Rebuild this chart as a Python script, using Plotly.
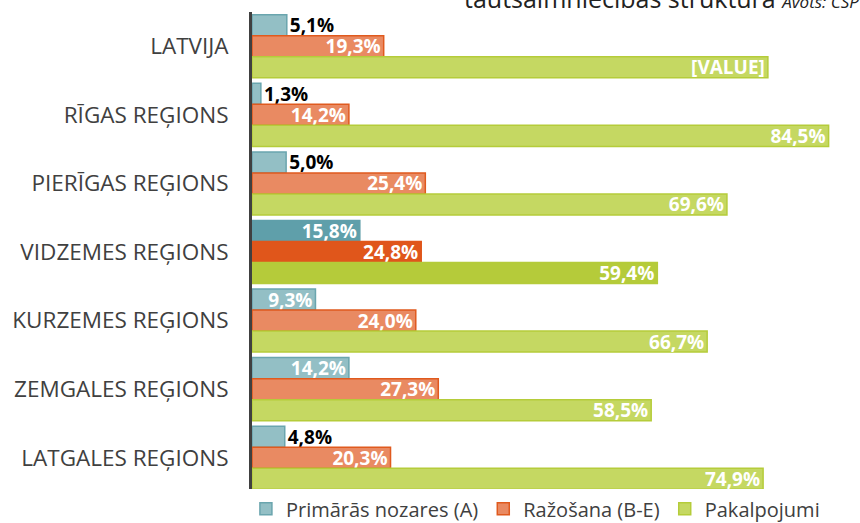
import plotly.graph_objects as go

categories = ["LATVIJA", "RĪGAS REĢIONS", "PIERĪGAS REĢIONS", "VIDZEMES REĢIONS",
              "KURZEMES REĢIONS", "ZEMGALES REĢIONS", "LATGALES REĢIONS"]
primaras = [5.1, 1.3, 5.0, 15.8, 9.3, 14.2, 4.8]
razosana = [19.3, 14.2, 25.4, 24.8, 24.0, 27.3, 20.3]
pakalpojumi = [75.6, 84.5, 69.6, 59.4, 66.7, 58.5, 74.9]
pak_labels = ["[VALUE]", "84,5%", "69,6%", "59,4%", "66,7%", "58,5%", "74,9%"]
series_names = ["Primārās nozares (A)", "Ražošana (B-E)", "Pakalpojumi"]

highlight = "VIDZEMES REĢIONS"

def fmt(v):
    return f"{v:.1f}%".replace(".", ",")

styles = [
    dict(fill="#93bfc5", line="#6aa5ae", hfill="#5f9faa", hline="#5f9faa"),
    dict(fill="#e98a62", line="#e05a1e", hfill="#e0561b", hline="#e0561b"),
    dict(fill="#c5d862", line="#b5cc3a", hfill="#b5cb3a", hline="#b5cb3a"),
]

fig = go.Figure()
for name, vals, st, labels in [
    (series_names[0], primaras, styles[0], [fmt(v) for v in primaras]),
    (series_names[1], razosana, styles[1], [fmt(v) for v in razosana]),
    (series_names[2], pakalpojumi, styles[2], pak_labels),
]:
    fills = [st["hfill"] if c == highlight else st["fill"] for c in categories]
    lines = [st["hline"] if c == highlight else st["line"] for c in categories]
    positions = ["outside" if v < 8 else "inside" for v in vals]
    fig.add_trace(go.Bar(
        name=name, y=categories, x=vals, orientation="h",
        marker=dict(color=fills, line=dict(color=lines, width=1.5)),
        text=labels, textposition=positions, insidetextanchor="end",
        constraintext="none", cliponaxis=False,
        insidetextfont=dict(color="white", size=19, family="Open Sans", weight="bold"),
        outsidetextfont=dict(color="black", size=19, family="Open Sans", weight="bold"),
        hoverinfo="skip",
    ))

fig.update_layout(
    width=860, height=523,
    margin=dict(l=252, r=0, t=12, b=31, autoexpand=False),
    paper_bgcolor="white", plot_bgcolor="white",
    barmode="group", bargap=0.08, bargroupgap=0,
    font=dict(family="Open Sans", color="#404040"),
    xaxis=dict(range=[0, 89.1], showgrid=False, zeroline=False, showticklabels=False,
               showline=False, fixedrange=True),
    yaxis=dict(autorange="reversed", showgrid=False, zeroline=False,
               showline=True, linecolor="#404040", linewidth=3,
               tickfont=dict(size=22.5, color="#404040", family="Open Sans"),
               ticklabelstandoff=16, ticks="", automargin=False),
    legend=dict(orientation="h", x=-0.01, xanchor="left",
                y=-0.035, yanchor="middle",
                font=dict(size=20, color="#404040", family="Open Sans"),
                traceorder="normal"),
    showlegend=True,
    annotations=[dict(
        text="tautsaimniecības struktūra <i><span style='font-size:17px'>Avots: CSP</span></i>",
        xref="paper", yref="paper", x=0.345, y=1, xanchor="left", yanchor="middle",
        yshift=14, showarrow=False, font=dict(size=25, color="#222222", family="Open Sans"),
    )],
)

fig.write_html("out.html", config={"displayModeBar": False},
               post_script="document.body.style.margin='0px';")
